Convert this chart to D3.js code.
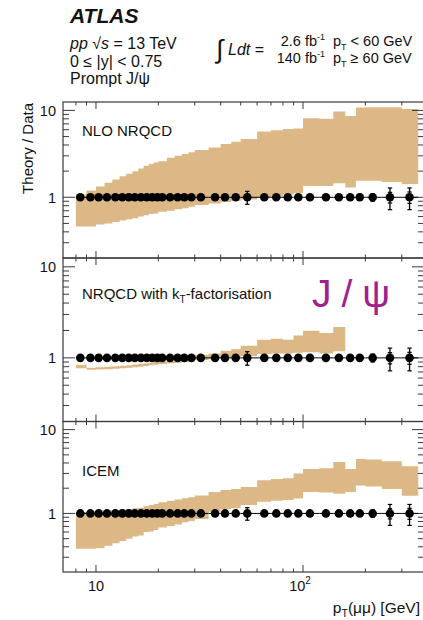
<!DOCTYPE html>
<html>
<head>
<meta charset="utf-8">
<script src="https://cdn.jsdelivr.net/npm/d3@7"></script>
<style>
  body { margin: 0; background: #fff; }
  svg text { font-family: "Liberation Sans", Arial, Helvetica, sans-serif; fill: #111; }
</style>
</head>
<body>
<svg id="chart" width="423" height="620"></svg>
<script>
// pT(mumu) bin edges [GeV]
const ptEdges = [8, 9, 10, 11, 12, 13, 14, 15, 16, 17, 18, 19, 20, 22, 24, 26, 28, 30,
  35, 40, 45, 50, 60, 70, 80, 90, 100, 120, 140, 160, 180, 200, 240, 300, 360];
// where the data points sit inside each bin
const ptMean = [8.4, 9.4, 10.3, 11.3, 12.4, 13.4, 14.4, 15.4, 16.5, 17.6, 18.7, 19.8,
  20.9, 22.8, 24.8, 26.7, 28.9, 32.1, 37.6, 42, 47.3, 53.8, 65, 74.3, 84.4, 94.9,
  108, 129, 149, 169, 188, 217, 263, 327];
// relative data uncertainty (data / data = 1)
const statErr = [0, 0, 0, 0, 0, 0, 0, 0, 0, 0, 0, 0, 0, 0, 0, 0, 0, 0, 0, 0, 0, 0.08,
  0, 0, 0, 0, 0, 0, 0.02, 0.03, 0.04, 0.05, 0.14, 0.15];
const totErr = [0.01, 0.01, 0.01, 0.01, 0.01, 0.01, 0.01, 0.01, 0.01, 0.01, 0.01, 0.01,
  0.01, 0.01, 0.01, 0.01, 0.01, 0.01, 0.02, 0.02, 0.02, 0.17, 0.02, 0.02, 0.02, 0.03,
  0.03, 0.03, 0.05, 0.06, 0.08, 0.1, 0.28, 0.28];

// NLO NRQCD theory / data band
const nloLo = [0.46, 0.46, 0.486, 0.5, 0.52, 0.54, 0.56, 0.575, 0.6, 0.62, 0.64, 0.65,
  0.68, 0.7, 0.73, 0.75, 0.78, 0.815, 0.85, 0.88, 0.905, 0.94, 1.0, 1.03, 1.08, 1.12,
  1.35, 1.35, 1.45, 1.3, 1.55, 1.55, 1.5, 1.42];
const nloHi = [1.08, 1.2, 1.33, 1.47, 1.6, 1.75, 1.87, 2.0, 2.15, 2.3, 2.42, 2.52,
  2.6, 2.85, 3.0, 3.15, 3.3, 3.5, 3.75, 4.1, 4.35, 4.7, 5.7, 5.9, 6.1, 6.2,
  8.1, 8.0, 9.7, 8.6, 10.8, 10.9, 10.9, 10.4];

// NRQCD with kT-factorisation band (stops at 160 GeV)
const ktLo = [0.77, 0.74, 0.745, 0.75, 0.76, 0.77, 0.78, 0.79, 0.8, 0.815, 0.83, 0.84,
  0.855, 0.87, 0.885, 0.9, 0.91, 0.95, 0.98, 1.0, 1.02, 1.05, 1.1, 1.12, 1.12, 1.14,
  1.15, 1.12, 1.18];
const ktHi = [0.84, 0.78, 0.79, 0.8, 0.81, 0.82, 0.83, 0.845, 0.86, 0.87, 0.885, 0.9,
  0.915, 0.93, 0.945, 0.96, 0.975, 1.08, 1.12, 1.2, 1.24, 1.36, 1.58, 1.62, 1.58, 1.76,
  1.98, 1.87, 2.18];

// ICEM band
const icemLo = [0.38, 0.38, 0.385, 0.41, 0.44, 0.47, 0.5, 0.53, 0.545, 0.6, 0.61, 0.635,
  0.68, 0.71, 0.74, 0.785, 0.81, 0.86, 1.05, 1.12, 1.15, 1.26, 1.38, 1.42, 1.45, 1.51,
  1.8, 1.78, 1.72, 1.8, 2.15, 2.1, 1.95, 1.62];
const icemHi = [1.04, 1.06, 1.08, 1.09, 1.1, 1.12, 1.13, 1.15, 1.17, 1.22, 1.26, 1.3,
  1.36, 1.42, 1.47, 1.52, 1.56, 1.64, 1.8, 1.9, 1.95, 2.07, 2.49, 2.58, 2.62, 2.99,
  3.4, 3.45, 4.1, 3.4, 4.45, 4.4, 4.2, 3.65];

const bandColor = "#ddb887";
const frameColor = "#3a3a3a";

const svg = d3.select("#chart");

const x = d3.scaleLog().domain([6.93, 384]).range([63, 424]);

const panels = [
  {top: 102, bottom: 258, lo: nloLo, hi: nloHi, label: "NLO NRQCD", labelY: 136},
  {top: 258, bottom: 421.5, lo: ktLo, hi: ktHi, label: "kt", labelY: 299},
  {top: 421.5, bottom: 572, lo: icemLo, hi: icemHi, label: "ICEM", labelY: 476}
];

const xMinor = x.ticks().filter(d => d > 7.5 && d < 380);

panels.forEach(function(p) {
  const y = d3.scaleLog().domain([0.2, 12.5]).range([p.bottom, p.top]);

  // theory band as a stepped area
  const steps = [];
  p.lo.forEach(function(v, i) {
    steps.push({pt: ptEdges[i], lo: v, hi: p.hi[i]});
    steps.push({pt: ptEdges[i + 1], lo: v, hi: p.hi[i]});
  });
  const area = d3.area()
    .x(d => x(d.pt))
    .y0(d => y(d.lo))
    .y1(d => y(d.hi));
  svg.append("path")
    .datum(steps)
    .attr("fill", bandColor)
    .attr("d", area);

  // frame
  svg.append("rect")
    .attr("x", x.range()[0])
    .attr("y", p.top)
    .attr("width", x.range()[1] - x.range()[0])
    .attr("height", p.bottom - p.top)
    .attr("fill", "none")
    .attr("stroke", frameColor)
    .attr("stroke-width", 1.2);

  // y ticks, both sides
  const yTicks = y.ticks().filter(d => d > 0.2 && d < 12.5);
  const g = svg.append("g").attr("stroke", frameColor).attr("stroke-width", 1);
  yTicks.forEach(function(t) {
    const major = (t === 1 || t === 10);
    const len = major ? 12 : 6;
    g.append("line")
      .attr("x1", x.range()[0]).attr("x2", x.range()[0] + len)
      .attr("y1", y(t)).attr("y2", y(t));
    g.append("line")
      .attr("x1", x.range()[1]).attr("x2", x.range()[1] - len)
      .attr("y1", y(t)).attr("y2", y(t));
  });
  // x ticks, top and bottom
  xMinor.forEach(function(t) {
    const major = (t === 10 || t === 100);
    const len = major ? 7 : 3.5;
    g.append("line")
      .attr("x1", x(t)).attr("x2", x(t))
      .attr("y1", p.top).attr("y2", p.top + len);
    g.append("line")
      .attr("x1", x(t)).attr("x2", x(t))
      .attr("y1", p.bottom).attr("y2", p.bottom - len);
  });

  // y tick labels
  [1, 10].forEach(function(t) {
    svg.append("text")
      .attr("x", 56)
      .attr("y", y(t))
      .attr("dy", "0.36em")
      .attr("text-anchor", "end")
      .attr("font-size", "14.5px")
      .text(t);
  });

  // data points with error bars
  const pts = svg.append("g");
  ptMean.forEach(function(m, i) {
    pts.append("line")
      .attr("x1", x(ptEdges[i])).attr("x2", x(ptEdges[i + 1]))
      .attr("y1", y(1)).attr("y2", y(1))
      .attr("stroke", "#000").attr("stroke-width", 1);
    const e = totErr[i];
    if (e > 0.03) {
      pts.append("line")
        .attr("x1", x(m)).attr("x2", x(m))
        .attr("y1", y(1 + e)).attr("y2", y(1 - e))
        .attr("stroke", "#000").attr("stroke-width", 1.3);
      [1 + e, 1 - e, 1 + statErr[i], 1 - statErr[i]].forEach(function(c) {
        if (Math.abs(c - 1) < 0.03) return;
        pts.append("line")
          .attr("x1", x(m) - 2.2).attr("x2", x(m) + 2.2)
          .attr("y1", y(c)).attr("y2", y(c))
          .attr("stroke", "#000").attr("stroke-width", 1.2);
      });
    }
    pts.append("circle")
      .attr("cx", x(m))
      .attr("cy", y(1))
      .attr("r", 4.3)
      .attr("fill", "#000");
  });

  // panel label
  const lab = svg.append("text")
    .attr("x", 82)
    .attr("y", p.labelY)
    .attr("font-size", "15px");
  if (p.label === "kt") {
    lab.append("tspan").text("NRQCD with k");
    lab.append("tspan").attr("font-size", "10px").attr("dy", 4).text("T");
    lab.append("tspan").attr("dy", -4).text("-factorisation");
  } else {
    lab.text(p.label);
  }
});

// x tick labels
svg.append("text")
  .attr("x", x(10)).attr("y", 591)
  .attr("text-anchor", "middle")
  .attr("font-size", "14.5px")
  .text("10");
const l100 = svg.append("text")
  .attr("x", x(100) - 3).attr("y", 591)
  .attr("text-anchor", "middle")
  .attr("font-size", "14.5px");
l100.append("tspan").text("10");
l100.append("tspan").attr("font-size", "10px").attr("dy", -7).text("2");

// x axis title, kept inside the picture
const xt = svg.append("text")
  .attr("x", 420).attr("y", 613)
  .attr("text-anchor", "end")
  .attr("font-size", "15.5px");
xt.append("tspan").text("p");
xt.append("tspan").attr("font-size", "10.5px").attr("dy", 4).text("T");
xt.append("tspan").attr("dy", -4).text("(μμ) [GeV]");

// y axis title
svg.append("text")
  .attr("transform", "translate(33,103) rotate(-90)")
  .attr("text-anchor", "end")
  .attr("font-size", "15px")
  .text("Theory / Data");

// J/psi tag
svg.append("text")
  .attr("x", 312).attr("y", 307)
  .attr("font-size", "39px")
  .attr("letter-spacing", "10px")
  .style("fill", "#a0208e")
  .text("J/ψ");

// header
svg.append("text")
  .attr("x", 70).attr("y", 23)
  .attr("font-size", "21px")
  .attr("font-weight", "bold")
  .attr("font-style", "italic")
  .text("ATLAS");

const h1 = svg.append("text").attr("x", 70).attr("y", 49).attr("font-size", "16px");
h1.append("tspan").attr("font-style", "italic").text("pp");
h1.append("tspan").text("  √");
h1.append("tspan").attr("font-style", "italic").text("s");
h1.append("tspan").text(" = 13 TeV");
svg.append("text").attr("x", 70).attr("y", 66.5).attr("font-size", "16px")
  .text("0 ≤ |y| < 0.75");
svg.append("text").attr("x", 70).attr("y", 84).attr("font-size", "16px")
  .text("Prompt J/ψ");

// luminosity block
svg.append("text")
  .attr("x", 216).attr("y", 58)
  .attr("font-size", "26px")
  .attr("font-weight", "200")
  .text("∫");
const ldt = svg.append("text").attr("x", 228).attr("y", 54.5).attr("font-size", "16px");
ldt.append("tspan").attr("font-style", "italic").text("Ldt");
ldt.append("tspan").text(" =");

const lumi = [["2.6 fb", 45.5], ["140 fb", 62.5]];
lumi.forEach(function(l) {
  const t = svg.append("text")
    .attr("x", 325).attr("y", l[1])
    .attr("text-anchor", "end")
    .attr("font-size", "14.5px");
  t.append("tspan").text(l[0]);
  t.append("tspan").attr("font-size", "9px").attr("dy", -6).text("-1");
});
const cuts = [["< 60 GeV", 45.5], ["≥ 60 GeV", 62.5]];
cuts.forEach(function(c) {
  const t = svg.append("text")
    .attr("x", 333).attr("y", c[1])
    .attr("font-size", "14.5px");
  t.append("tspan").text("p");
  t.append("tspan").attr("font-size", "9px").attr("dy", 4).text("T");
  t.append("tspan").attr("dy", -4).text(" " + c[0]);
});
</script>
</body>
</html>
